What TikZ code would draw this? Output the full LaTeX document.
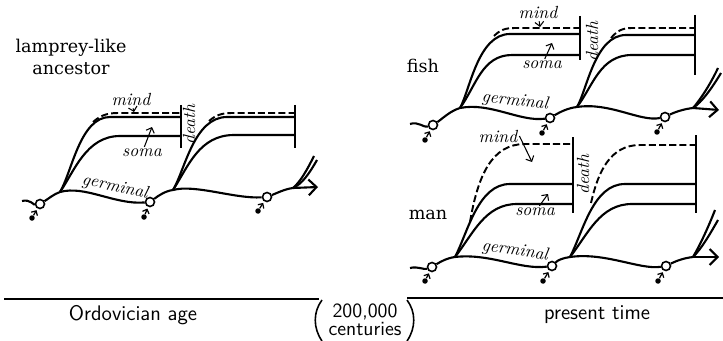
\documentclass[tikz,border=0pt]{standalone}
\usepackage{fontspec}
\newfontfamily\taxonfont{DejaVu Serif}
\usepackage{tikz}
\usetikzlibrary{arrows.meta}

\begin{document}
\begin{tikzpicture}[
    x=0.02cm, y=-0.02cm,
    growth/.style={line width=1.2pt},
    mindline/.style={line width=1.1pt, dash pattern=on 4pt off 1.8pt},
    deathbar/.style={line width=0.9pt},
    egg/.style={draw, circle, fill=white, line width=0.9pt, inner sep=0pt, minimum size=0.18cm},
    sperm/.style={circle, fill=black, inner sep=0pt, minimum size=0.11cm},
    tail/.style={-{Straight Barb[length=2pt]}, line width=0.7pt, shorten >=1pt},
    pointer/.style={-{Straight Barb[length=2.5pt]}, line width=0.6pt},
    tag/.style={font=\itshape, inner sep=1pt},
    taxon/.style={font=\taxonfont\fontsize{10}{13}\selectfont, align=center},
    era/.style={font=\sffamily\large}
]
\useasboundingbox (0,0) rectangle (723,341);

% --- Lamprey-like ancestor ---
\node[taxon] (lp_name) at (71,57) {lamprey-like\\ancestor};
\coordinate (lp_start) at (22,201);
\coordinate (lp_br1) at (60,192);
\coordinate (lp_br2) at (173,190);
\coordinate (lp_br3) at (293,188);
\coordinate (lp_end) at (318,187);
\node[egg] (lp_egg1) at (40,204) {};
\node[egg] (lp_egg2) at (150,202) {};
\node[egg] (lp_egg3) at (267,197) {};
\node[sperm] (lp_sp1) at (32,218) {};
\node[sperm] (lp_sp2) at (144,217) {};
\node[sperm] (lp_sp3) at (258,211) {};
\draw[tail] (lp_sp1) -- (lp_egg1);
\draw[tail] (lp_sp2) -- (lp_egg2);
\draw[tail] (lp_sp3) -- (lp_egg3);
\draw[growth] (lp_start) .. controls (30,199) and (34,205) .. (lp_egg1)
    (lp_egg1) .. controls (48,199) and (54,194) .. (lp_br1)
    .. controls (85,185) and (115,205) .. (lp_egg2)
    (lp_egg2) .. controls (158,196) and (165,191) .. (lp_br2)
    .. controls (195,184) and (235,199) .. (lp_egg3)
    (lp_egg3) .. controls (277,193) and (285,189) .. (lp_br3);
\draw[growth, -{Straight Barb[length=4.5pt]}] (lp_br3) -- (lp_end);
\draw[growth] (lp_br1) .. controls (74,172) and (86,136) .. (120,136) -- (181,136);
\draw[growth] (lp_br1) .. controls (72,172) and (80,117) .. (110,117) -- (181,117);
\draw[mindline] (93,122) .. controls (100,116) and (106,113) .. (118,113) -- (181,113);
\draw[deathbar] (181,105) -- (181,148);
\draw[growth] (lp_br2) .. controls (188,167) and (199,135) .. (234,135) -- (295,135);
\draw[growth] (lp_br2) .. controls (185,170) and (194,117) .. (227,117) -- (295,117);
\draw[mindline] (209,121) .. controls (216,115) and (222,113) .. (232,113) -- (295,113);
\draw[deathbar] (295,105) -- (295,148);
\draw[growth] (lp_br3) .. controls (300,182) and (306,172) .. (314,156);
\draw[growth] (lp_br3) .. controls (302,184) and (309,174) .. (317,160);
\node[tag] (lp_mind) at (131,100) {mind};
\node[tag] (lp_soma) at (142,153) {soma};
\node[tag, rotate=-12] (lp_germ) at (115,187) {germinal};
\node[tag, rotate=90] (lp_death) at (189,125) {death};
\coordinate (lp_mindtip) at (134,112);
\coordinate (lp_somatip) at (152,127);
\draw[pointer] (lp_mind) -- (lp_mindtip);
\draw[pointer] (lp_soma) -- (lp_somatip);

% --- Fish ---
\node[taxon] (fi_name) at (423,66) {fish};
\coordinate (fi_start) at (410,124);
\coordinate (fi_br1) at (460,108);
\coordinate (fi_br2) at (577,107);
\coordinate (fi_br3) at (693,108);
\coordinate (fi_end) at (719,110);
\node[egg] (fi_egg1) at (433,125) {};
\node[egg] (fi_egg2) at (550,118) {};
\node[egg] (fi_egg3) at (665,117) {};
\node[sperm] (fi_sp1) at (425,140) {};
\node[sperm] (fi_sp2) at (542,133) {};
\node[sperm] (fi_sp3) at (657,132) {};
\draw[tail] (fi_sp1) -- (fi_egg1);
\draw[tail] (fi_sp2) -- (fi_egg2);
\draw[tail] (fi_sp3) -- (fi_egg3);
\draw[growth] (fi_start) .. controls (418,121) and (424,128) .. (fi_egg1)
    (fi_egg1) .. controls (442,119) and (450,111) .. (fi_br1)
    .. controls (490,102) and (520,122) .. (fi_egg2)
    (fi_egg2) .. controls (560,112) and (568,108) .. (fi_br2)
    .. controls (610,102) and (640,122) .. (fi_egg3)
    (fi_egg3) .. controls (675,112) and (684,109) .. (fi_br3);
\draw[growth, -{Straight Barb[length=4.5pt]}] (fi_br3) -- (fi_end);
\draw[growth] (fi_br1) .. controls (476,86) and (482,55) .. (512,55) -- (580,55);
\draw[growth] (fi_br1) .. controls (470,90) and (478,34) .. (510,34) -- (580,34);
\draw[mindline] (494,36) .. controls (500,30) and (505,28) .. (515,28) -- (580,28);
\draw[deathbar] (580,16) -- (580,60);
\draw[growth] (fi_br2) .. controls (593,86) and (600,55) .. (632,55) -- (695,55);
\draw[growth] (fi_br2) .. controls (587,90) and (595,35) .. (626,35) -- (695,35);
\draw[mindline] (611,38) .. controls (617,31) and (622,28) .. (632,28) -- (695,28);
\draw[deathbar] (695,15) -- (695,75);
\draw[growth] (fi_br3) .. controls (700,100) and (710,85) .. (718,68);
\draw[growth] (fi_br3) .. controls (702,102) and (712,88) .. (721,73);
\node[tag] (fi_mind) at (538,13) {mind};
\node[tag] (fi_soma) at (542,65) {soma};
\node[tag, rotate=-7] (fi_germ) at (515,101) {germinal};
\node[tag, rotate=90] (fi_death) at (592,42) {death};
\coordinate (fi_mindtip) at (540,27);
\coordinate (fi_somatip) at (552,43);
\draw[pointer] (fi_mind) -- (fi_mindtip);
\draw[pointer] (fi_soma) -- (fi_somatip);

% --- Man ---
\node[taxon] (mn_name) at (428,215) {man};
\coordinate (mn_start) at (410,268);
\coordinate (mn_br1) at (455,257);
\coordinate (mn_br2) at (570,257);
\coordinate (mn_br3) at (693,257);
\coordinate (mn_end) at (719,257);
\node[egg] (mn_egg1) at (432,267) {};
\node[egg] (mn_egg2) at (552,266) {};
\node[egg] (mn_egg3) at (666,266) {};
\node[sperm] (mn_sp1) at (425,281) {};
\node[sperm] (mn_sp2) at (543,281) {};
\node[sperm] (mn_sp3) at (658,281) {};
\draw[tail] (mn_sp1) -- (mn_egg1);
\draw[tail] (mn_sp2) -- (mn_egg2);
\draw[tail] (mn_sp3) -- (mn_egg3);
\draw[growth] (mn_start) .. controls (418,266) and (424,270) .. (mn_egg1)
    (mn_egg1) .. controls (440,262) and (447,258) .. (mn_br1)
    .. controls (490,253) and (520,270) .. (mn_egg2)
    (mn_egg2) .. controls (558,260) and (563,258) .. (mn_br2)
    .. controls (605,252) and (640,270) .. (mn_egg3)
    (mn_egg3) .. controls (676,261) and (684,258) .. (mn_br3);
\draw[growth, -{Straight Barb[length=4.5pt]}] (mn_br3) -- (mn_end);
\draw[growth] (mn_br1) .. controls (473,234) and (485,204) .. (517,204) -- (573,204);
\draw[growth] (mn_br1) .. controls (468,232) and (478,184) .. (510,184) -- (573,184);
\draw[mindline] (470,222) .. controls (478,175) and (492,144) .. (525,144) -- (573,144);
\draw[deathbar] (573,137) -- (573,213);
\draw[growth] (mn_br2) .. controls (588,234) and (600,204) .. (632,204) -- (696,204);
\draw[growth] (mn_br2) .. controls (583,232) and (593,184) .. (625,184) -- (696,184);
\draw[mindline] (591,203) .. controls (598,172) and (610,145) .. (640,145) -- (696,145);
\draw[deathbar] (696,135) -- (696,213);
\draw[growth] (mn_br3) .. controls (700,245) and (708,228) .. (715,210);
\draw[growth] (mn_br3) .. controls (702,248) and (710,234) .. (718,220);
\node[tag] (mn_mind) at (498,136) {mind};
\node[tag] (mn_soma) at (535,212) {soma};
\node[tag, rotate=-8] (mn_germ) at (515,251) {germinal};
\node[tag, rotate=90] (mn_death) at (583,175) {death};
\coordinate (mn_mindtip) at (532,162);
\coordinate (mn_somatip) at (548,194);
\draw[pointer] (mn_mind.east) -- (mn_mindtip);
\draw[pointer] (mn_soma) -- (mn_somatip);

% --- Time axis ---
\draw[growth] (4,299) -- (319,299);
\draw[growth] (407,298) -- (723,298);
\draw[deathbar] (322,300) .. controls (313,312) and (313,328) .. (322,341);
\draw[deathbar] (407,300) .. controls (416,312) and (416,328) .. (407,341);
\node[era] (t_old) at (133,315) {Ordovician age};
\node[era, align=center, font=\sffamily\fontsize{11.5}{10}\selectfont] (t_gap) at (365,320) {200,000\\centuries};
\node[era] (t_now) at (597,315) {present time};

\end{tikzpicture}
\end{document}
